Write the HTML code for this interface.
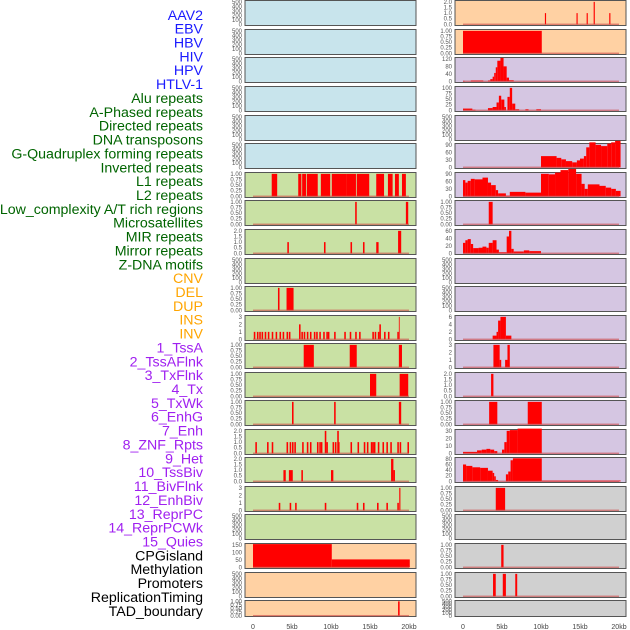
<!DOCTYPE html>
<html><head><meta charset="utf-8"><style>
body{margin:0;background:#fff;}
svg{display:block;font-family:"Liberation Sans",sans-serif;}
</style></head><body>
<svg id="chart" width="630" height="630" viewBox="0 0 630 630"></svg>
<script>
const labels=["AAV2","EBV","HBV","HIV","HPV","HTLV-1","Alu repeats","A-Phased repeats","Directed repeats","DNA transposons","G-Quadruplex forming repeats","Inverted repeats","L1 repeats","L2 repeats","Low_complexity A/T rich regions","Microsatellites","MIR repeats","Mirror repeats","Z-DNA motifs","CNV","DEL","DUP","INS","INV","1_TssA","2_TssAFlnk","3_TxFlnk","4_Tx","5_TxWk","6_EnhG","7_Enh","8_ZNF_Rpts","9_Het","10_TssBiv","11_BivFlnk","12_EnhBiv","13_ReprPC","14_ReprPCWk","15_Quies","CPGisland","Methylation","Promoters","ReplicationTiming","TAD_boundary"];
const labelColors=["#1a1aff","#1a1aff","#1a1aff","#1a1aff","#1a1aff","#1a1aff","#006400","#006400","#006400","#006400","#006400","#006400","#006400","#006400","#006400","#006400","#006400","#006400","#006400","#ffa500","#ffa500","#ffa500","#ffa500","#ffa500","#a020f0","#a020f0","#a020f0","#a020f0","#a020f0","#a020f0","#a020f0","#a020f0","#a020f0","#a020f0","#a020f0","#a020f0","#a020f0","#a020f0","#a020f0","#000","#000","#000","#000","#000"];
const xTicks=[0,5,10,15,20];
const xTickLabels=["0","5kb","10kb","15kb","20kb"];
const T500=[0,100,200,300,400,500], T1=[0,0.25,0.5,0.75,1], T2=[0,0.5,1,1.5,2], T3=[0,1,2,3];
const T1L=["0.00","0.25","0.50","0.75","1.00"], T2L=["0.0","0.5","1.0","1.5","2.0"];
const spikes=(arr,v,w)=>arr.map(k=>[k,k+(w||0.2),v]);
const leftPanels=[
["b",T500,null,[]],["b",T500,null,[]],["b",T500,null,[]],["b",T500,null,[]],["b",T500,null,[]],["b",T500,null,[]],
["g",T1,T1L,[[2.4,3.1,1],[5.8,6.2,1],[6.3,6.8,1],[6.9,8.3,1],[8.7,9.9,1],[10.1,12.0,1],[12.0,13.2,1],[13.3,14.9,1],[15.8,16.8,1],[17.3,17.9,1],[18.2,18.7,1],[19.1,19.6,1]]],
["g",T1,T1L,[[13.1,13.3,1],[19.6,19.9,1]]],
["g",T2,T2L,[[4.4,4.6,1],[9.1,9.3,1],[12.5,12.7,1],[14.1,14.3,1],[15.8,16.1,1],[18.6,19.0,2]]],
["g",T500,null,[]],
["g",T1,T1L,[[3.2,3.4,1],[4.3,5.2,1]]],
["g",T3,null,spikes([0.1,0.5,0.8,1.1,1.5,1.9,2.4,2.9,3.4,3.8,4.3,4.6,6.2,6.5,6.9,7.3,7.8,8.1,8.5,9.0,9.4,9.6,10.4,11.7,12.4,13.1,13.6,15.3,15.6,16.0,16.8,17.3,18.5],1).concat([[5.9,6.1,2],[16.2,16.4,2],[18.7,18.8,3]])],
["g",T1,T1L,[[6.5,7.8,1],[12.4,13.3,1],[18.7,19.1,1]]],
["g",T1,T1L,[[15.0,15.8,1],[18.8,19.9,1]]],
["g",T1,T1L,[[5.0,5.2,1],[10.4,10.6,1],[18.7,19.0,1]]],
["g",T2,T2L,spikes([0.3,1.8,2.4,4.3,4.7,5.0,5.3,6.3,6.9,7.3,8.2,8.5,8.7,9.4,10.2,10.5,10.9,12.5,13.4,14.2,14.6,15.1,15.3,15.5,16.0,16.6,17.1,17.6,18.5,18.8,19.8],1).concat([[9.2,9.4,2],[10.8,11.0,2]])],
["g",T2,T2L,[[3.9,4.2,1],[4.6,5.1,1],[6.2,6.4,1],[10.0,10.3,1],[17.7,18.0,2],[18.0,18.2,1]]],
["g",T3,null,spikes([3.3,4.7,5.4,9.2,13.3,14.1,15.9,17.1,18.5],1).concat([[18.75,18.9,3]])],
["g",T500,null,[]],
["p",[0,50,100,150],null,[[0,10.1,155],[10.1,20.1,53]]],
["p",T500,null,[]],
["p",T1,T1L,[[18.6,18.8,1]]]
];
const rightPanels=[
["p",T2,T2L,[[10.5,10.65,1],[14.55,14.7,1],[15.85,16.0,1],[16.75,16.9,2],[18.75,18.9,1]]],
["p",T1,T1L,[[0,10.1,1]]],
["u",[0,40,80,120],null,[[0,0.2,3],[1.0,2.6,5],[3.2,3.5,5],[3.5,3.8,12],[3.8,4.0,25],[4.0,4.2,45],[4.2,4.4,75],[4.4,4.8,110],[4.8,5.2,125],[5.2,5.6,80],[5.6,5.9,20],[5.9,6.5,6]]],
["u",[0,25,50,75,100],null,[[0,1.2,8],[1.2,1.6,3],[3.2,3.8,10],[3.8,4.3,15],[4.3,4.6,35],[4.6,4.9,65],[4.9,5.3,48],[5.3,5.5,15],[5.7,6.0,60],[6.0,6.3,100],[6.3,6.7,30],[6.7,7.2,5],[8.0,8.4,5],[9.4,10.0,5]]],
["u",T500,null,[]],
["u",[0,30,60,90],null,[[10.0,12.0,45],[12.0,12.6,38],[12.6,13.2,32],[13.2,14.0,25],[14.0,14.6,20],[14.6,15.0,28],[15.0,15.5,35],[15.5,15.8,45],[15.8,16.2,80],[16.2,17.0,100],[17.0,17.7,90],[17.7,18.5,85],[18.5,19.0,95],[19.0,19.5,100],[19.5,20.2,106]]],
["u",[0,30,60,90],null,[[0,0.3,65],[0.3,0.6,55],[0.6,1.0,62],[1.0,1.5,70],[1.5,2.5,68],[2.5,3.2,75],[3.2,3.6,55],[3.6,4.2,45],[4.2,4.5,25],[4.5,5.5,12],[5.5,6.0,3],[6.0,8.0,18],[8.0,10.0,15],[10,11,90],[11,11.8,88],[11.8,12.5,95],[12.5,13.5,105],[13.5,14.5,110],[14.5,15.2,90],[15.2,15.6,50],[15.6,16.0,30],[16.0,17.5,48],[17.5,18.3,42],[18.3,19.0,35],[19,19.6,30],[19.6,20.2,22]]],
["u",T1,T1L,[[3.3,3.8,1]]],
["u",[0,20,40,60],null,[[0,0.3,28],[0.3,0.6,35],[0.6,1.0,38],[1.0,1.3,25],[1.3,2.0,14],[2.0,2.5,15],[2.5,3.0,18],[3.0,3.3,15],[3.3,3.8,28],[3.8,4.3,35],[4.3,4.6,10],[4.6,5.6,3],[5.6,5.9,45],[5.9,6.2,60],[6.2,6.5,12],[6.5,7.8,5],[7.8,8.5,8],[8.5,10.0,6]]],
["u",T500,null,[]],["u",T500,null,[]],
["u",[0,2,4,6],null,[[3.8,4.3,1],[4.3,4.5,2],[4.5,4.8,5],[4.8,5.5,6],[5.5,6.2,1]]],
["u",T3,null,[[3.9,4.7,3],[4.7,4.9,1],[5.4,5.7,1],[5.7,6.0,3]]],
["u",T2,T2L,[[3.6,3.9,2]]],
["u",T1,T1L,[[3.35,4.4,1],[8.3,10.1,1]]],
["u",[0,10,20,30],null,[[0,1.8,2],[1.8,2.4,4],[2.4,3.0,5],[3.0,3.5,6],[3.5,4.0,5],[4.0,4.4,3],[5.0,5.3,5],[5.3,5.6,15],[5.6,6.0,30],[6.0,7.0,31],[7.0,10.1,33]]],
["u",[0,20,40,60,80],null,[[0,0.4,60],[0.4,1.2,55],[1.2,2.2,50],[2.2,3.2,48],[3.2,3.8,38],[3.8,4.0,30],[4.0,4.2,18],[4.2,4.5,5],[5.5,5.8,25],[5.8,6.1,35],[6.1,6.4,75],[6.4,10.1,82],[10.1,20.2,3]]],
["y",T1,T1L,[[4.2,5.4,1]]],
["y",T500,null,[]],
["y",T1,T1L,[[4.9,5.2,1]]],
["y",T1,T1L,[[3.85,4.2,1],[5.1,5.5,1],[6.7,6.95,1]]],
["y",T500,null,[]]
];
const bgs={b:"#c8e4ec",g:"#c9e1a4",p:"#ffd1a3",u:"#d5c6e2",y:"#d0d0d0"};
const rowTops=[0,29,57,86,115,143,172,200,229,258,286,315,343,372,400,429,457,486,514,543,572,600];
const NS="http://www.w3.org/2000/svg";
const svg=document.getElementById("chart");
function mk(tag,attrs,parent){const e=document.createElementNS(NS,tag);for(const k in attrs)e.setAttribute(k,attrs[k]);(parent||svg).appendChild(e);return e;}
labels.forEach((t,i)=>{
  const e=mk("text",{x:203,y:15+i*13.86+4.8,"text-anchor":"end","font-size":"14.2",fill:labelColors[i]});
  e.textContent=t;
  
  
});
function drawCol(panels,px0,side){
  const xs=kb=>px0+8+kb*7.8;
  panels.forEach((p,i)=>{
    const top=rowTops[i]+0.5, h=(i===21?16:25);
    const g=mk("g",{});
    
    
    mk("rect",{x:px0,y:top,width:171,height:h,fill:bgs[p[0]],stroke:"#555","stroke-width":1},g);
    const ticks=p[1], mx=ticks[ticks.length-1];
    const lo=-0.05*mx, hi=1.06*mx;
    const ys=v=>top+h-(v-lo)/(hi-lo)*h;
    p[3].forEach(b=>{
      const r=mk("rect",{x:xs(b[0]),y:ys(b[2]),width:Math.max(0.8,xs(b[1])-xs(b[0])),height:ys(0)-ys(b[2]),fill:"#ff0000"},g);
      
      
    });
    if(p[3].length) mk("rect",{x:xs(0),y:ys(0)-0.8,width:xs(20)-xs(0),height:1.4,fill:"#c44",opacity:0.6},g);
    ticks.forEach((t,j)=>{
      const e=mk("text",{x:px0-3,y:ys(t)+2,"text-anchor":"end","font-size":"6",fill:"#555"},g);
      e.textContent=p[2]?p[2][j]:String(t);
    });
  });
  xTicks.forEach((k,j)=>{
    const e=mk("text",{x:xs(k),y:629,"text-anchor":"middle","font-size":"7",fill:"#444"});
    e.textContent=xTickLabels[j];
    
    
  });
}
drawCol(leftPanels,245,'left');
drawCol(rightPanels,455,'right');
</script>
</body></html>
